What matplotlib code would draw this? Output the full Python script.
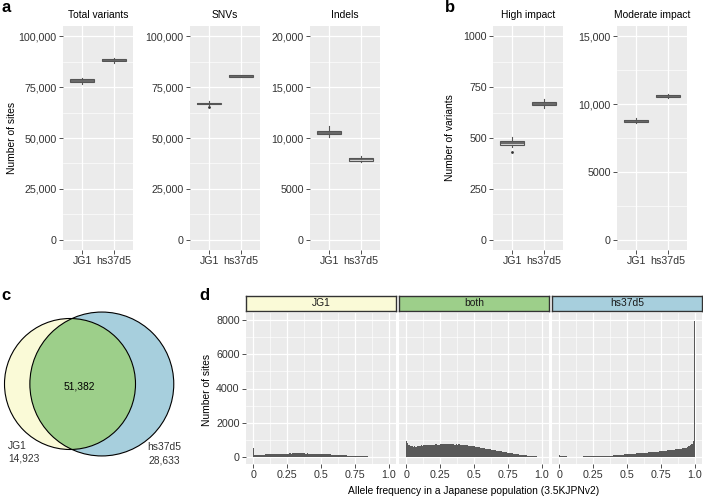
import numpy as np
import matplotlib
matplotlib.use('Agg')
import matplotlib.pyplot as plt
from matplotlib.patches import Circle
from matplotlib.ticker import FixedLocator, FixedFormatter

plt.rcParams['font.family'] = ['Liberation Sans', 'DejaVu Sans']

# ---------------- data ----------------
groups = ['JG1', 'hs37d5']
# box stats: [whisker low, q1, median, q3, whisker high]
total_jg1 = [76300, 77600, 78200, 78800, 79700]
total_hs37d5 = [86900, 87700, 88300, 88900, 89500]
snvs_jg1 = [66000, 66500, 66900, 67300, 68000]
snvs_jg1_out = [65200]
snvs_hs37d5 = [79900, 80100, 80400, 80700, 80900]
indels_jg1 = [10070, 10363, 10540, 10716, 11180]
indels_hs37d5 = [7680, 7775, 7900, 8010, 8235]
high_jg1 = [457, 464, 474, 485, 503]
high_jg1_out = [430]
high_hs37d5 = [647, 662, 669, 676, 691]
moderate_jg1 = [8580, 8676, 8750, 8824, 8950]
moderate_hs37d5 = [10440, 10490, 10570, 10640, 10710]

titles_a = ['Total variants', 'SNVs', 'Indels']
titles_b = ['High impact', 'Moderate impact']
ticks_total = [0, 25000, 50000, 75000, 100000]
labels_total = ['0', '25,000', '50,000', '75,000', '100,000']
ticks_indels = [0, 5000, 10000, 15000, 20000]
labels_indels = ['0', '5000', '10,000', '15,000', '20,000']
ticks_high = [0, 250, 500, 750, 1000]
labels_high = ['0', '250', '500', '750', '1000']
ticks_moderate = [0, 5000, 10000, 15000]
labels_moderate = ['0', '5000', '10,000', '15,000']

venn_names = ['JG1', 'hs37d5']
venn_only = [14923, 28633]
venn_both = 51382

facets = ['JG1', 'both', 'hs37d5']
facet_colors = ['#FAFAD7', '#9DCF8A', '#A7CFDD']
bin_edges = np.round(np.arange(0, 102) * 0.01 - 0.005, 3)
hist_jg1 = [550, 120, 100, 110, 120, 130, 140, 150, 150, 160,
            165, 170, 175, 180, 180, 185, 190, 185, 195, 195,
            200, 200, 205, 200, 210, 205, 210, 215, 210, 215,
            220, 215, 220, 225, 215, 220, 225, 215, 220, 210,
            215, 210, 205, 210, 200, 205, 195, 200, 190, 185,
            190, 180, 175, 180, 170, 165, 160, 160, 150, 150,
            140, 140, 130, 130, 125, 120, 115, 110, 105, 100,
            95, 90, 85, 85, 80, 75, 70, 65, 60, 60,
            55, 50, 45, 45, 40, 35, 30, 30, 25, 20,
            20, 15, 15, 10, 10, 8, 6, 5, 4, 3, 2]
hist_both = [920, 800, 700, 650, 620, 600, 640, 610, 650, 660,
             640, 680, 670, 700, 690, 680, 710, 700, 720, 700,
             730, 720, 740, 730, 720, 750, 740, 760, 740, 750,
             760, 740, 770, 750, 740, 760, 730, 750, 720, 740,
             710, 730, 700, 710, 680, 690, 670, 660, 640, 650,
             620, 610, 600, 590, 570, 560, 540, 540, 510, 500,
             490, 470, 460, 440, 430, 410, 400, 380, 370, 350,
             340, 320, 310, 290, 280, 270, 250, 240, 230, 210,
             200, 190, 180, 165, 150, 140, 130, 120, 110, 100,
             90, 80, 70, 60, 55, 45, 40, 30, 25, 15, 5]
hist_hs37d5 = [100, 90, 60, 50, 45, 40, 35, 35, 30, 30,
               30, 30, 32, 30, 33, 35, 34, 36, 38, 38,
               40, 42, 44, 45, 47, 48, 50, 52, 55, 58,
               60, 63, 66, 70, 74, 78, 82, 86, 90, 95,
               100, 105, 110, 118, 125, 132, 140, 148, 155, 162,
               170, 176, 182, 190, 196, 202, 208, 215, 222, 226,
               230, 238, 245, 252, 258, 265, 272, 280, 288, 294,
               300, 310, 318, 326, 334, 340, 350, 360, 370, 380,
               390, 400, 410, 420, 430, 440, 450, 465, 475, 490,
               500, 515, 530, 545, 560, 600, 620, 680, 780, 950, 7950]
hist_values = [hist_jg1, hist_both, hist_hs37d5]

# ---------------- figure ----------------
W, H = 703, 497
fig = plt.figure(figsize=(W / 100, H / 100), dpi=100)


def ax_px(l, t, r, b, **kw):
    return fig.add_axes([l / W, 1 - b / H, (r - l) / W, (b - t) / H], **kw)


def text_px(x, y, s, **kw):
    fig.text(x / W, 1 - y / H, s, **kw)


TXT = '#333333'
FS = 7.4
TFS = 7.7


def gg_style(ax):
    ax.set_facecolor('#EBEBEB')
    for s in ax.spines.values():
        s.set_visible(False)
    ax.tick_params(which='major', length=3, width=0.6, color=TXT,
                   labelcolor=TXT, labelsize=TFS, pad=1.5)
    ax.tick_params(which='minor', length=0)
    ax.set_axisbelow(True)
    ax.grid(which='major', color='white', lw=0.9)
    ax.grid(which='minor', color='white', lw=0.45)


def box_panel(ax, stats_list, outliers, ticks, labels, top):
    bx = []
    for st, out, g in zip(stats_list, outliers, groups):
        bx.append(dict(whislo=st[0], q1=st[1], med=st[2], q3=st[3],
                       whishi=st[4], fliers=out, label=g))
    ax.bxp(bx, positions=[1, 2], widths=0.75, patch_artist=True,
           showcaps=False,
           boxprops=dict(facecolor='#D4D4D4', edgecolor='#555555', lw=0.8),
           medianprops=dict(color='#555555', lw=1.2),
           whiskerprops=dict(color='#555555', lw=0.8),
           flierprops=dict(marker='o', markersize=2, markerfacecolor='#333333',
                           markeredgecolor='none'))
    gg_style(ax)
    ax.set_xlim(0.4, 2.6)
    ax.set_ylim(-0.05 * top, 1.05 * top)
    ax.yaxis.set_major_locator(FixedLocator(ticks))
    ax.yaxis.set_major_formatter(FixedFormatter(labels))
    minors = [(a + b) / 2 for a, b in zip(ticks[:-1], ticks[1:])]
    ax.yaxis.set_minor_locator(FixedLocator(minors))
    ax.set_xticks([1, 2])
    ax.set_xticklabels(groups)
    ax.grid(which='major', axis='x', color='white', lw=0.9)


# panel a
a_rects = [(63, 133), (190, 260), (310, 380)]
a_stats = [[total_jg1, total_hs37d5], [snvs_jg1, snvs_hs37d5], [indels_jg1, indels_hs37d5]]
a_out = [[[], []], [snvs_jg1_out, []], [[], []]]
a_ticks = [(ticks_total, labels_total, 100000), (ticks_total, labels_total, 100000),
           (ticks_indels, labels_indels, 20000)]
for (l, r), st, out, (tk, lb, top), ttl in zip(a_rects, a_stats, a_out, a_ticks, titles_a):
    ax = ax_px(l, 26, r, 250)
    box_panel(ax, st, out, tk, lb, top)
    text_px((l + r) / 2, 15, ttl, ha='center', va='center', fontsize=FS, color='black')
text_px(12, 138, 'Number of sites', rotation=90, ha='center', va='center', fontsize=FS)

# panel b
b_rects = [(493, 563), (617, 687)]
b_stats = [[high_jg1, high_hs37d5], [moderate_jg1, moderate_hs37d5]]
b_out = [[high_jg1_out, []], [[], []]]
b_ticks = [(ticks_high, labels_high, 1000), (ticks_moderate, labels_moderate, 15000)]
for (l, r), st, out, (tk, lb, top), ttl in zip(b_rects, b_stats, b_out, b_ticks, titles_b):
    ax = ax_px(l, 26, r, 250)
    box_panel(ax, st, out, tk, lb, top)
    text_px((l + r) / 2, 15, ttl, ha='center', va='center', fontsize=FS, color='black')
text_px(450, 138, 'Number of variants', rotation=90, ha='center', va='center', fontsize=FS)

# panel letters
for x, y, s in [(1, 8, 'a'), (445, 8, 'b'), (1, 295, 'c'), (199, 295, 'd')]:
    text_px(x, y, s, ha='left', va='center', fontsize=12, fontweight='bold')

# panel c: Venn
axv = ax_px(0, 300, 200, 470)
axv.set_xlim(0, 200)
axv.set_ylim(470, 300)
axv.axis('off')
tot1 = venn_only[0] + venn_both
tot2 = venn_only[1] + venn_both
r1 = 65.5
r2 = r1 * np.sqrt(tot2 / tot1)
target = np.pi * r1 ** 2 * venn_both / tot1


def lens(d):
    a1 = r1 ** 2 * np.arccos((d * d + r1 * r1 - r2 * r2) / (2 * d * r1))
    a2 = r2 ** 2 * np.arccos((d * d + r2 * r2 - r1 * r1) / (2 * d * r2))
    k = 0.5 * np.sqrt((-d + r1 + r2) * (d + r1 - r2) * (d - r1 + r2) * (d + r1 + r2))
    return a1 + a2 - k


lo, hi = r2 - r1 + 1e-6, r1 + r2 - 1e-6
for _ in range(80):
    mid = (lo + hi) / 2
    if lens(mid) > target:
        lo = mid
    else:
        hi = mid
dist = (lo + hi) / 2
cx1, cy = 70, 384
cx2 = cx1 + dist
c2 = Circle((cx2, cy), r2, facecolor=facet_colors[2], edgecolor='none')
axv.add_patch(c2)
c1 = Circle((cx1, cy), r1, facecolor=facet_colors[0], edgecolor='none')
axv.add_patch(c1)
clip = Circle((cx2, cy), r2, transform=axv.transData)
cg = Circle((cx1, cy), r1, facecolor=facet_colors[1], edgecolor='none')
axv.add_patch(cg)
cg.set_clip_path(clip)
axv.add_patch(Circle((cx1, cy), r1, facecolor='none', edgecolor='black', lw=0.8))
axv.add_patch(Circle((cx2, cy), r2, facecolor='none', edgecolor='black', lw=0.8))
axv.text(79, 386, f'{venn_both:,}', ha='center', va='center', fontsize=FS)
axv.text(8, 446, venn_names[0], ha='left', va='center', fontsize=FS, color=TXT)
axv.text(8, 458, f'{venn_only[0]:,}', ha='left', va='center', fontsize=FS, color=TXT)
axv.text(147, 447, venn_names[1], ha='left', va='center', fontsize=FS, color=TXT)
axv.text(180, 460, f'{venn_only[1]:,}', ha='right', va='center', fontsize=FS, color=TXT)

# panel d: histograms
d_rects = [(246, 396), (399, 549), (552, 702)]
for i, ((l, r), name, col, vals) in enumerate(zip(d_rects, facets, facet_colors, hist_values)):
    ax = ax_px(l, 313, r, 464)
    ax.stairs(vals, bin_edges, fill=True, color='#595959', linewidth=0)
    gg_style(ax)
    ax.set_xlim(-0.055, 1.055)
    ax.set_ylim(-400, 8400)
    ax.xaxis.set_major_locator(FixedLocator([0, 0.25, 0.5, 0.75, 1.0]))
    ax.xaxis.set_major_formatter(FixedFormatter(['0', '0.25', '0.5', '0.75', '1.0']))
    ax.xaxis.set_minor_locator(FixedLocator([0.125, 0.375, 0.625, 0.875]))
    ax.yaxis.set_major_locator(FixedLocator([0, 2000, 4000, 6000, 8000]))
    ax.yaxis.set_minor_locator(FixedLocator([1000, 3000, 5000, 7000]))
    if i == 0:
        ax.yaxis.set_major_formatter(FixedFormatter(['0', '2000', '4000', '6000', '8000']))
    else:
        ax.tick_params(axis='y', which='major', length=0, labelleft=False)
    sax = ax_px(l, 296, r, 311)
    sax.set_facecolor(col)
    sax.set_xticks([])
    sax.set_yticks([])
    for s in sax.spines.values():
        s.set_color('#333333')
        s.set_linewidth(1.0)
    sax.text(0.5, 0.5, name, transform=sax.transAxes, ha='center', va='center',
             fontsize=FS, color='#1a1a1a')
text_px(207, 390, 'Number of sites', rotation=90, ha='center', va='center', fontsize=FS)
text_px(474, 491, 'Allele frequency in a Japanese population (3.5KJPNv2)',
        ha='center', va='center', fontsize=FS)

fig.savefig('out.png', dpi=100)
